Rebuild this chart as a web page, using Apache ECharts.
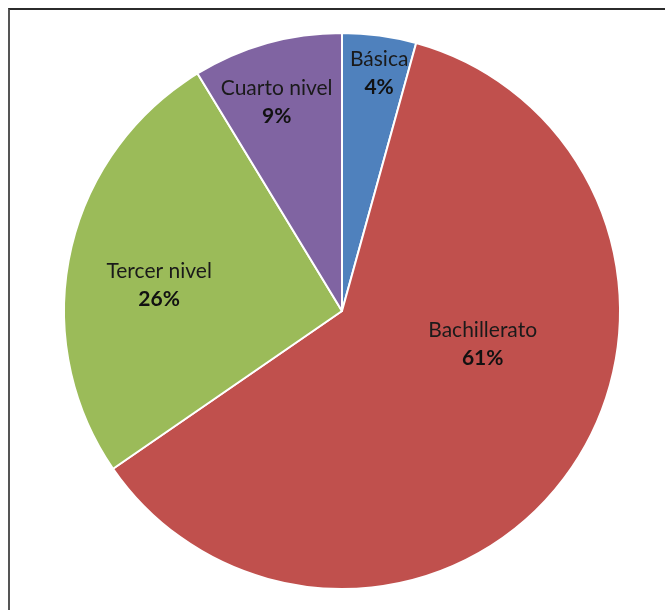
<!DOCTYPE html>
<html>
<head>
<meta charset="utf-8">
<script src="https://cdn.jsdelivr.net/npm/echarts@6/dist/echarts.min.js"></script>
<style>
  html, body { margin: 0; padding: 0; background: #fff; }
  #wrap { position: relative; width: 665px; height: 610px; overflow: hidden; }
  #frame {
    position: absolute; left: 8px; top: 8px; width: 700px; height: 640px;
    border-top: 2px solid #2b2b2b; border-left: 2px solid #555;
  }
  #chart { position: absolute; left: 0; top: 0; width: 665px; height: 610px; }
</style>
</head>
<body>
<div id="wrap">
  <div id="frame"></div>
  <div id="chart"></div>
</div>
<script>
  // datos del gráfico
  var categorias = ['Básica', 'Bachillerato', 'Tercer nivel', 'Cuarto nivel'];
  var valores = [4.3, 61.1, 25.9, 8.7];
  var colores = ['#4f81bd', '#c0504d', '#9bbb59', '#8064a2'];

  // desplazamiento de cada etiqueta respecto a la posicion "inside"
  var ajusteEtiquetas = [[18, -97], [25, -49], [-44, 4], [-27, -72]];

  var chart = echarts.init(document.getElementById('chart'));
  var option = {
    animation: false,
    series: [{
      type: 'pie',
      center: [342, 311],
      radius: 278,
      startAngle: 90,
      clockwise: true,
      data: categorias.map(function (c, i) {
        return { name: c, value: valores[i], itemStyle: { color: colores[i] } };
      }),
      itemStyle: { borderColor: '#fff', borderWidth: 2 },
      label: {
        show: true,
        position: 'inside',
        formatter: function (p) {
          return '{n|' + p.name + '}\n{p|' + Math.round(p.percent) + '%}';
        },
        rich: {
          n: { fontFamily: 'Lato', fontSize: 21, color: '#1a1a1a', lineHeight: 28, align: 'center' },
          p: { fontFamily: 'Lato', fontSize: 21, fontWeight: 'bold', color: '#111', lineHeight: 28, align: 'center' }
        }
      },
      labelLine: { show: false },
      labelLayout: function (params) {
        var a = ajusteEtiquetas[params.dataIndex];
        return { dx: a[0], dy: a[1] };
      }
    }]
  };
  chart.setOption(option);
  window.onresize = function () {
    chart.resize();
  }
</script>
</body>
</html>
